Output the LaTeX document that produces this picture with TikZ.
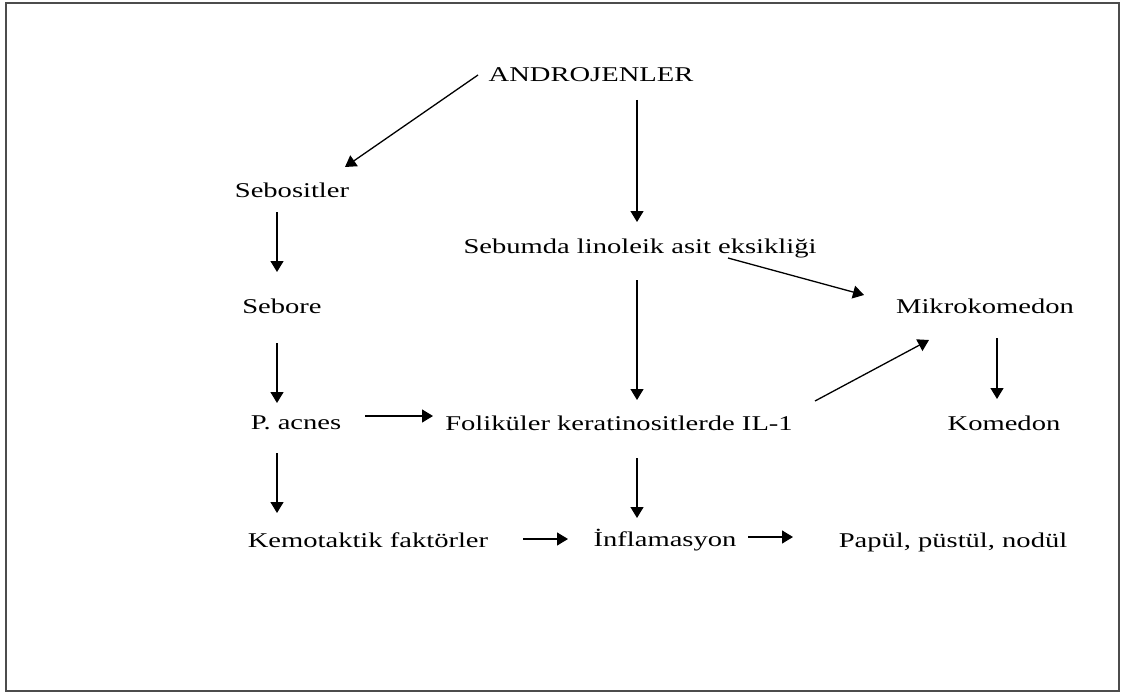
\documentclass[tikz,border=0pt]{standalone}
\usepackage{fontspec}
\setmainfont{Liberation Serif}[FakeStretch=1.36]
\usetikzlibrary{arrows.meta}
\begin{document}
\begin{tikzpicture}[x=1pt,y=-1pt,
  lbl/.style={anchor=base,inner sep=0pt,font=\fontsize{21}{24}\selectfont,text=black},
  arr/.style={draw=black,line width=1.3pt,-{Triangle[length=11pt,width=13pt]}}]
\useasboundingbox (0,0) rectangle (1121,695);
\draw[draw=black!70,line width=2pt] (6,3) rectangle (1119,691);
\node[lbl] (andro) at (591,82) {ANDROJENLER};
\node[lbl] (sebo) at (292,197) {Sebositler};
\node[lbl] (sebore) at (282,313) {Sebore};
\node[lbl] (pacnes) at (296,429) {P. acnes};
\node[lbl] (sebum) at (640,253) {Sebumda linoleik asit eksikliği};
\node[lbl] (mikro) at (985,313) {Mikrokomedon};
\node[lbl] (komedon) at (1004,430) {Komedon};
\node[lbl] (folik) at (619,430) {Foliküler keratinositlerde IL-1};
\node[lbl] (kemo) at (368,547) {Kemotaktik faktörler};
\node[lbl] (infl) at (665,546) {İnflamasyon};
\node[lbl] (papul) at (953,547) {Papül, püstül, nodül};
\draw[arr] ([shift={(-113,-7)}]andro.base) -- ([shift={(53,-30)}]sebo.base);
\draw[arr] ([shift={(46,18)}]andro.base) -- ([shift={(-3,-31)}]sebum.base);
\draw[arr] ([shift={(-15,15)}]sebo.base) -- ([shift={(-5,-41)}]sebore.base);
\draw[arr] ([shift={(-5,30)}]sebore.base) -- ([shift={(-19,-26)}]pacnes.base);
\draw[arr] ([shift={(-19,24)}]pacnes.base) -- ([shift={(-91,-34)}]kemo.base);
\draw[arr] ([shift={(69,-13)}]pacnes.base) -- ([shift={(-186,-14)}]folik.base);
\draw[arr] ([shift={(-3,27)}]sebum.base) -- ([shift={(18,-30)}]folik.base);
\draw[arr] ([shift={(18,28)}]folik.base) -- ([shift={(-28,-28)}]infl.base);
\draw[arr] ([shift={(155,-8)}]kemo.base) -- ([shift={(-97,-7)}]infl.base);
\draw[arr] ([shift={(83,-9)}]infl.base) -- ([shift={(-160,-10)}]papul.base);
\draw[arr] ([shift={(88,5)}]sebum.base) -- ([shift={(-121,-18)}]mikro.base);
\draw[arr] ([shift={(196,-29)}]folik.base) -- ([shift={(-56,27)}]mikro.base);
\draw[arr] ([shift={(12,25)}]mikro.base) -- ([shift={(-7,-31)}]komedon.base);
\end{tikzpicture}
\end{document}
